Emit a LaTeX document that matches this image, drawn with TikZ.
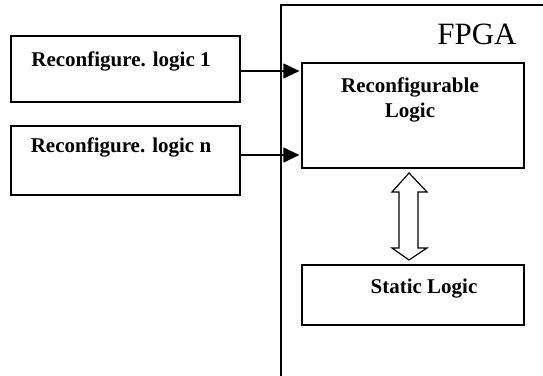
\documentclass[tikz,border=0pt]{standalone}
\usepackage{fontspec}
\setmainfont{Liberation Serif}
\usetikzlibrary{arrows.meta,calc}
\begin{document}
\begin{tikzpicture}[x=1pt,y=-1pt,
  box/.style={draw,line width=1.2pt,rectangle,inner sep=0pt},
  lbl/.style={font=\fontsize{21}{25}\selectfont\bfseries,anchor=base,inner sep=0pt},
  feed/.style={line width=1.2pt,shorten >=2pt,-{Triangle[length=16pt,width=15pt]}}]
\useasboundingbox (0,0) rectangle (543,375);

% FPGA boundary: open frame along top and left
\coordinate (fpgaTL) at (281,5);
\coordinate (fpgaTR) at (545,5);
\coordinate (fpgaBL) at (281,377);
\draw[line width=1.2pt] (fpgaTR) -- (fpgaTL) -- (fpgaBL);
\node[font=\fontsize{31}{35}\selectfont,anchor=base,inner sep=0pt] (fpga) at (477,44) {FPGA};

% external partial bitstreams
\node[box,minimum width=229pt,minimum height=66pt] (rc1) at (125.5,69) {};
\node[box,minimum width=229pt,minimum height=69pt] (rcn) at (125.5,160.5) {};
\node[lbl] (rc1t) at (121,66) {Reconfigure. logic 1};
\node[lbl] (rcnt) at (121,152.5) {Reconfigure. logic n};

% regions inside the device
\node[box,minimum width=222pt,minimum height=105pt] (rl) at (413,115.5) {};
\node[lbl] (rlt1) at (410,92) {Reconfigurable};
\node[lbl] (rlt2) at (410,117) {Logic};
\node[box,minimum width=222pt,minimum height=60pt] (sl) at (413,295) {};
\node[lbl] (slt) at (424,293) {Static Logic};

% loading paths
\draw[feed] (rc1.east |- 0,71) -- (rl.west |- 0,71);
\draw[feed] (rcn.east |- 0,155) -- (rl.west |- 0,155);

% bidirectional link between the two regions
\coordinate (dtop) at (409,173);
\coordinate (dbot) at (409,260);
\draw[line width=1.2pt,fill=white,line join=miter]
  (dtop) -- ($(dtop)+(-17,19)$) -- ($(dtop)+(-10,19)$)
  -- ($(dbot)+(-10,-12)$) -- ($(dbot)+(-17,-12)$) -- (dbot)
  -- ($(dbot)+(18,-12)$) -- ($(dbot)+(9,-12)$)
  -- ($(dtop)+(9,19)$) -- ($(dtop)+(18,19)$) -- cycle;
\end{tikzpicture}
\end{document}
